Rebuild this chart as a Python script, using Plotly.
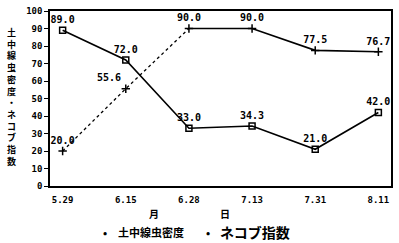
import plotly.graph_objects as go

categories = ["5.29", "6.15", "6.28", "7.13", "7.31", "8.11"]
nematode_density = [89.0, 72.0, 33.0, 34.3, 21.0, 42.0]
gall_index = [20.0, 55.6, 90.0, 90.0, 77.5, 76.7]
y_ticks = [0, 10, 20, 30, 40, 50, 60, 70, 80, 90, 100]

x_idx = list(range(len(categories)))
FONT = "DejaVu Sans Mono"
CJK = "Noto Sans CJK JP"
fig = go.Figure()

# 土中線虫密度: solid line, open squares
fig.add_trace(go.Scatter(
    x=x_idx, y=nematode_density, mode="lines+markers+text",
    text=[f"{v:.1f}" for v in nematode_density], textposition="top center",
    textfont=dict(family=FONT, size=10, color="black", weight="bold"),
    line=dict(color="black", width=1.6),
    marker=dict(symbol="square-open", size=6, color="black", line=dict(width=1.5)),
    showlegend=False,
))
# ネコブ指数: dotted for first part, solid afterwards
fig.add_trace(go.Scatter(
    x=x_idx[:3], y=gall_index[:3], mode="lines",
    line=dict(color="black", width=1.3, dash="dot"), showlegend=False,
))
fig.add_trace(go.Scatter(
    x=x_idx[2:], y=gall_index[2:], mode="lines",
    line=dict(color="black", width=1.6), showlegend=False,
))
gall_pos = ["top center", "top left", "top center", "top center", "top center", "top center"]
fig.add_trace(go.Scatter(
    x=x_idx, y=gall_index, mode="markers+text",
    text=[f"{v:.1f}" for v in gall_index], textposition=gall_pos,
    textfont=dict(family=FONT, size=10, color="black", weight="bold"),
    marker=dict(symbol="cross-thin-open", size=6, color="black", line=dict(width=1.5, color="black")),
    showlegend=False,
))

L, R, T, B = 50, 6, 10, 57
W, H = 399, 243
pw, ph = W - L - R, H - T - B

def px(x):
    return (x - L) / pw

def py(y):
    return (H - B - y) / ph

fig.update_layout(
    width=W, height=H, margin=dict(l=L, r=R, t=T, b=B),
    paper_bgcolor="white", plot_bgcolor="white",
    font=dict(family=FONT, color="black"),
    xaxis=dict(
        range=[-0.2, 5.2], tickmode="array", tickvals=x_idx, ticktext=categories,
        showline=True, linecolor="black", linewidth=1.6, mirror=True,
        showgrid=False, zeroline=False, ticks="", ticklabelstandoff=4,
        tickfont=dict(family=FONT, size=9, color="black", weight="bold"),
    ),
    yaxis=dict(
        range=[0, 100], tickmode="array", tickvals=y_ticks,
        showline=True, linecolor="black", linewidth=1.6, mirror=True,
        showgrid=False, zeroline=False, ticks="outside", ticklen=4, tickwidth=1.2,
        tickcolor="black",
        tickfont=dict(family=FONT, size=9, color="black", weight="bold"),
    ),
)

def note(text, x, y, size, xanchor="left"):
    fig.add_annotation(text=text, xref="paper", yref="paper", x=px(x), y=py(y),
                       xanchor=xanchor, yanchor="middle", showarrow=False,
                       font=dict(family=CJK, size=size, color="black", weight="bold"))

ytitle = "<br>".join(list("土中線虫密度・ネコブ指数"))
fig.add_annotation(text=ytitle, xref="paper", yref="paper", x=px(11), y=py(96),
                   xanchor="center", yanchor="middle", showarrow=False,
                   font=dict(family=CJK, size=9, color="black", weight="bold"))
note("月", 155, 214, 10, "center")
note("日", 226, 214, 10, "center")
note("•", 101, 232, 11)
note("土中線虫密度", 116, 232, 11)
note("•", 205, 232, 11)
note("ネコブ指数", 219, 232, 14)

fig.write_html("out.html")
